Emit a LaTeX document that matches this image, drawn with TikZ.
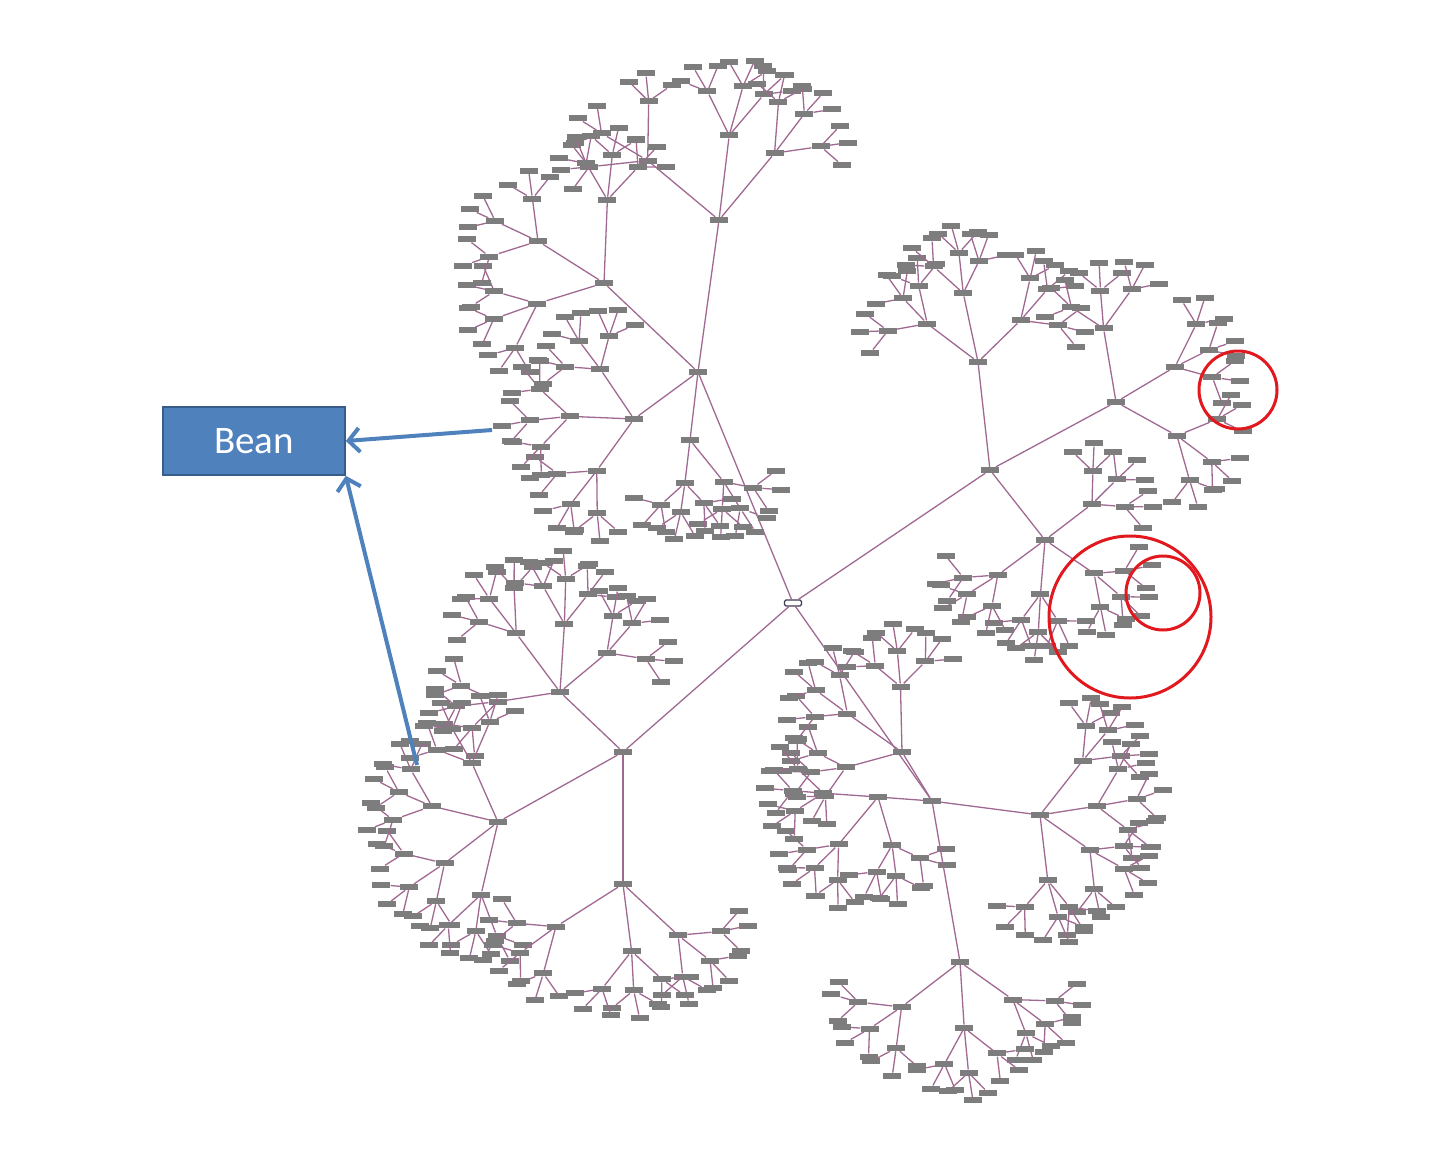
\documentclass[tikz,border=0pt]{standalone}
\usepackage{fontspec}
\newfontfamily\beanfont{Carlito}
\usetikzlibrary{arrows.meta}

\tikzset{
  box/.style={fill=boxgray, minimum width=18pt, minimum height=6pt, inner sep=0pt},
  rootbox/.style={fill=white, draw=rootedge, line width=1.2pt, rounded corners=1.5pt,
    minimum width=17pt, minimum height=6pt, inner sep=0pt},
  link/.style={draw=linkpink, line width=1.3pt},
  beanbox/.style={fill=beanblue, draw=beanedge, line width=1.6pt, minimum width=182pt,
    minimum height=68pt, text=white, font=\beanfont\fontsize{39}{42}\selectfont},
  pointer/.style={draw=beanblue, line width=4pt, -{Straight Barb[length=11pt,width=24pt]}},
  ring/.style={draw=ringred, line width=3pt}
}

\begin{document}
\begin{tikzpicture}[x=1pt,y=-1pt]
  % Define colors
  \definecolor{boxgray}{RGB}{125,125,125}
  \definecolor{rootedge}{RGB}{60,60,80}
  \definecolor{linkpink}{RGB}{160,105,145}
  \definecolor{beanblue}{RGB}{79,129,189}
  \definecolor{beanedge}{RGB}{56,93,138}
  \definecolor{ringred}{RGB}{225,25,30}
  \useasboundingbox (0,0) rectangle (1430,1170);
  \pgfmathsetseed{12}

  % Root and first level hubs
  \node[rootbox] (n0) at (793,603) {};
  \foreach \h/\hx/\hy in {1/698/372, 2/990/470, 3/623/752, 4/932/801} {
    \node[box] (n\h) at (\hx,\hy) {};
    \draw[link] (n0) -- (n\h);
  }

  % Clusters: hub, parent, direction, spread, branches, size
  \foreach \c/\hx/\hy/\from/\dir/\spr/\nk/\sc in {
      1/719/220/n1/-90/45/3/1.1,
      2/604/283/n1/-140/50/3/0.95,
      3/634/419/n1/180/55/3/0.8,
      14/690/440/n1/70/50/2/0.6,
      4/978/362/n2/-95/55/3/0.82,
      5/1116/402/n2/-35/60/3/0.9,
      6/1045/540/n2/60/60/4/0.72,
      7/560/692/n3/-110/48/4/0.85,
      8/498/822/n3/175/50/4/0.85,
      9/623/884/n3/90/55/3/0.9,
      10/902/752/n4/-140/55/3/0.75,
      11/878/797/n4/130/60/3/0.7,
      12/1040/815/n4/10/45/4/0.8,
      13/960/962/n4/90/55/3/0.85} {
    \node[box] (k\c) at (\hx,\hy) {};
    \draw[link] (\from) -- (k\c);
    \foreach \i in {1,...,\nk} {
      \pgfmathsetmacro{\angA}{\dir+(\i-(\nk+1)/2)*\spr+rand*8}
      \pgfmathsetmacro{\lenA}{(80+rand*10)*\sc}
      \path (k\c) ++(\angA:\lenA) node[box] (k\c-\i) {};
      \draw[link] (k\c) -- (k\c-\i);
      \foreach \j in {1,2,3} {
        \pgfmathsetmacro{\angB}{\angA+(\j-2)*42+rand*10}
        \pgfmathsetmacro{\lenB}{(48+rand*6)*\sc}
        \path (k\c-\i) ++(\angB:\lenB) node[box] (k\c-\i-\j) {};
        \draw[link] (k\c-\i) -- (k\c-\i-\j);
        \foreach \m in {1,2,3} {
          \pgfmathsetmacro{\angC}{\angB+(\m-2)*48+rand*10}
          \path (k\c-\i-\j) ++(\angC:28) node[box] (k\c-\i-\j-\m) {};
          \draw[link] (k\c-\i-\j) -- (k\c-\i-\j-\m);
        }
      }
    }
  }

  % Red rings
  \draw[ring] (1238,390) circle[radius=39];
  \draw[ring] (1130,617) circle[radius=81];
  \draw[ring] (1163,593) circle[radius=37];

  % Bean box and pointers
  \node[beanbox] (bean) at (254,441) {Bean};
  \coordinate (beanA) at (492,430);
  \coordinate (beanB) at (417,765);
  \draw[pointer] (beanA) -- (bean.east);
  \draw[pointer] (beanB) -- (bean.south east);
\end{tikzpicture}
\end{document}
